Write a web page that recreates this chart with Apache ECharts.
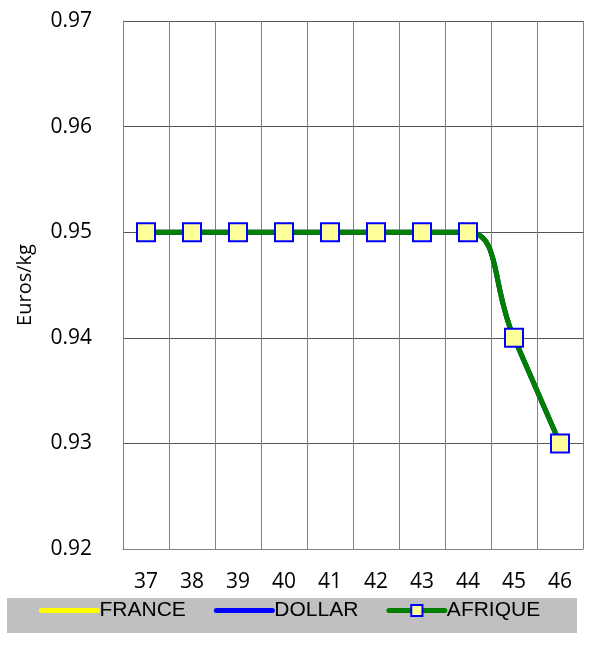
<!DOCTYPE html>
<html><head><meta charset="utf-8">
<script src="https://cdn.jsdelivr.net/npm/echarts@6/dist/echarts.min.js"></script>
<style>html,body{margin:0;padding:0;background:#fff}#c{width:595px;height:655px}</style>
</head><body><div id="c"></div>
<script>
const categories = ['37','38','39','40','41','42','43','44','45','46'];
const france = [0.95,0.95,0.95,0.95,0.95,0.95,0.95,0.95,0.94,0.93];
const dollar = [0.95,0.95,0.95,0.95,0.95,0.95,0.95,0.95,0.94,0.93];
const afrique = [0.95,0.95,0.95,0.95,0.95,0.95,0.95,0.95,0.94,0.93];
const yTicks = [0.92,0.93,0.94,0.95,0.96,0.97];

const chart = echarts.init(document.getElementById('c'));
const font = 'Open Sans, DejaVu Sans, sans-serif';
const legLine = {width:5, cap:'round'};
chart.setOption({
  animation:false,
  graphic:[{type:'rect',left:7,top:598,shape:{width:570,height:35},style:{fill:'#c0c0c0'},z:-1}],
  grid:{left:123,right:12,top:21,bottom:106,containLabel:false},
  legend:{top:595,left:34,itemWidth:56,itemHeight:14,itemGap:28,
    lineStyle:legLine,
    textStyle:{fontFamily:'Liberation Sans, Arial, sans-serif',fontSize:21,color:'#000',padding:[0,0,0,-3]},
    data:[{name:'FRANCE',itemStyle:{opacity:0}},{name:'DOLLAR',itemStyle:{opacity:0}},{name:'AFRIQUE'}]},
  xAxis:{type:'category',data:categories,boundaryGap:true,
    axisLine:{lineStyle:{color:'#808080',width:1}},axisTick:{show:false},
    axisLabel:{fontFamily:font,fontSize:21,color:'#000',margin:23},
    splitLine:{show:true,lineStyle:{color:'#808080',width:1}}},
  yAxis:{type:'value',min:0.92,max:0.97,interval:0.01,
    name:'Euros/kg',nameLocation:'middle',nameGap:88,
    nameTextStyle:{fontFamily:font,fontSize:20,color:'#000'},
    axisLine:{show:true,lineStyle:{color:'#808080'}},axisTick:{show:false},
    axisLabel:{fontFamily:font,fontSize:21,color:'#000',margin:31,
      formatter:v=>{const t=yTicks.find(x=>Math.abs(x-v)<1e-9);return (t!==undefined?t:v).toFixed(2);}},
    splitLine:{show:true,lineStyle:{color:'#555',width:1}}},
  series:[
    {name:'FRANCE',type:'line',data:france,smooth:0.5,symbol:'none',lineStyle:{color:'#ffff00',width:5},itemStyle:{color:'#ffff00'}},
    {name:'DOLLAR',type:'line',data:dollar,smooth:0.5,symbol:'none',lineStyle:{color:'#0000ff',width:5},itemStyle:{color:'#0000ff'}},
    {name:'AFRIQUE',type:'line',data:afrique,smooth:0.5,symbol:'rect',symbolSize:18,
      lineStyle:{color:'#008000',width:5},
      itemStyle:{color:'#ffff99',borderColor:'#0000ff',borderWidth:2}}
  ]
});
</script></body></html>
